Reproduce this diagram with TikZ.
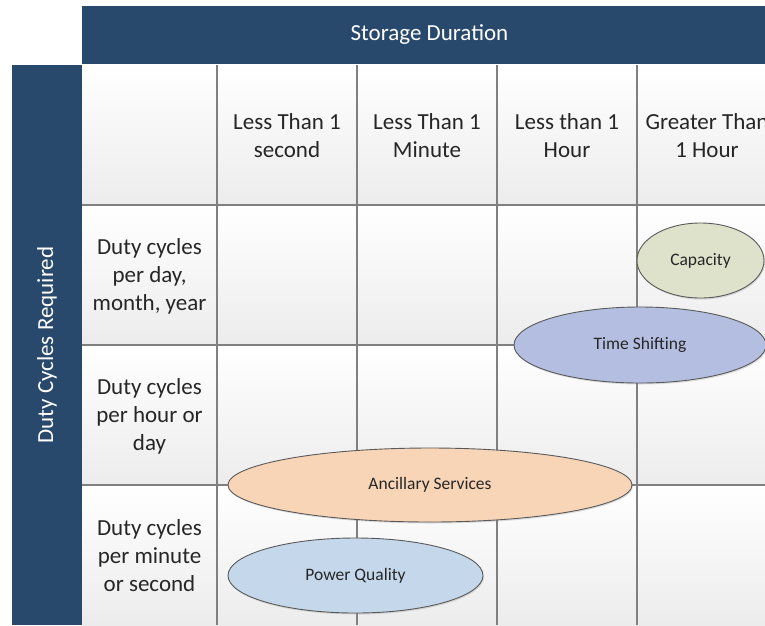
\documentclass[tikz,border=0pt]{standalone}
\usepackage{fontspec}
\setmainfont{Carlito}
\usetikzlibrary{shapes.geometric,shadows}
\definecolor{navy}{RGB}{41,73,108}
\definecolor{gridgray}{RGB}{128,128,128}
\definecolor{capfill}{RGB}{222,226,203}
\definecolor{tsfill}{RGB}{180,190,225}
\definecolor{ancfill}{RGB}{248,213,183}
\definecolor{pqfill}{RGB}{197,215,235}
\definecolor{cellbot}{RGB}{236,236,236}
\definecolor{ellline}{RGB}{90,90,90}
\tikzset{
  lbl/.style={align=center, font=\fontsize{23}{28}\selectfont, text=black!85, inner sep=0pt},
  hdr/.style={font=\fontsize{23}{28}\selectfont, text=white, inner sep=0pt},
  blob/.style={ellipse, draw=ellline, line width=0.9pt, inner sep=0pt,
    font=\fontsize{17.5}{20}\selectfont, text=black!85,
    drop shadow={shadow xshift=1pt, shadow yshift=-1.5pt, opacity=0.25}},
  cell/.style={top color=white, bottom color=cellbot},
  gridline/.style={draw=gridgray, line width=1.4pt}
}
\begin{document}
\begin{tikzpicture}[x=1pt,y=-1pt]
\useasboundingbox (0,0) rectangle (765,625);
\clip (0,0) rectangle (765,625);
% header bars
\fill[navy] (82,6) rectangle (777,64);
\fill[navy] (12,65) rectangle (82,625);
% cells
\foreach \x in {82,217,357,497,637} {
  \foreach \y in {65,205,345,485} {
    \shade[cell] (\x,\y) rectangle ({\x+140},{\y+140});
  }
}
% grid lines
\foreach \x in {217,357,497,637} \draw[gridline] (\x,65) -- (\x,625);
\foreach \y in {205,345,485} \draw[gridline] (82,\y) -- (777,\y);
% texts
\node[hdr] (title) at (429.5,35) {Storage Duration};
\node[hdr, rotate=90] (side) at (47,345) {Duty Cycles Required};
\node[lbl] (c1) at (287,136) {Less Than 1\\second};
\node[lbl] (c2) at (427,136) {Less Than 1\\Minute};
\node[lbl] (c3) at (567,136) {Less than 1\\Hour};
\node[lbl] (c4) at (707,136) {Greater Than\\1 Hour};
\node[lbl] (r1) at (149.5,276) {Duty cycles\\per day,\\month, year};
\node[lbl] (r2) at (149.5,416) {Duty cycles\\per hour or\\day};
\node[lbl] (r3) at (149.5,556) {Duty cycles\\per minute\\or second};
% ellipses
\node[blob, fill=capfill, minimum width=127pt, minimum height=75pt] (cap) at (700.5,260.5) {Capacity};
\node[blob, fill=tsfill, minimum width=252pt, minimum height=76pt] (ts) at (640,345) {Time Shifting};
\node[blob, fill=ancfill, minimum width=404pt, minimum height=74pt] (anc) at (430,485) {Ancillary Services};
\node[blob, fill=pqfill, minimum width=255pt, minimum height=75pt] (pq) at (355.5,575.5) {Power Quality};
\end{tikzpicture}
\end{document}
